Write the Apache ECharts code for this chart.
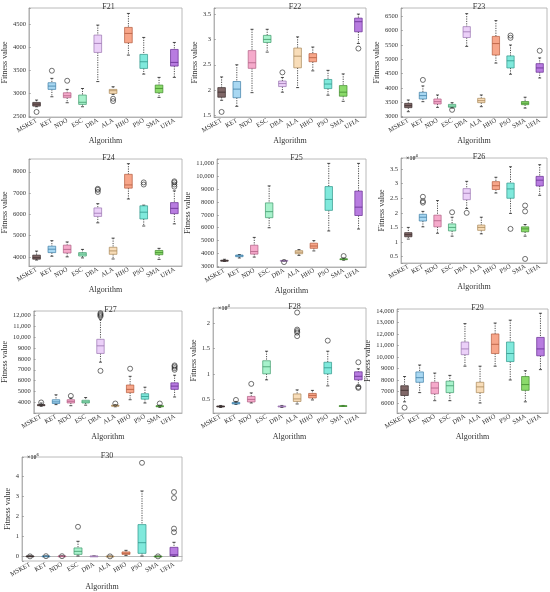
<!DOCTYPE html>
<html>
<head>
<meta charset="utf-8">
<title>F21 - F30 fitness boxplots</title>
<script src="https://cdn.jsdelivr.net/npm/echarts@6/dist/echarts.min.js"></script>
<style>
    html, body { margin: 0; padding: 0; background: #fff; }
    #main { width: 550px; height: 592px; }
</style>
</head>
<body>
<div id="main"></div>
<script>
var algorithms = ['MSKET', 'KET', 'NDO', 'ESC', 'DBA', 'ALA', 'HHO', 'PSO', 'SMA', 'UFIA'];

// each row: [lower whisker, q1, median, q3, upper whisker], one row per algorithm
// outliers: [algorithm index, value]
var f21Box = [
    [2703, 2717, 2760, 2797, 2848],
    [2920, 3080, 3152, 3225, 3320],
    [2790, 2899, 2942, 3007, 3080],
    [2703, 2754, 2800, 2957, 3100],
    [3250, 3884, 4080, 4261, 4478],
    [2971, 2993, 3051, 3080, 3138],
    [3826, 4094, 4297, 4428, 4732],
    [3413, 3536, 3681, 3841, 4210],
    [2906, 3007, 3101, 3174, 3341],
    [3341, 3587, 3667, 3949, 4101]
];
var f21Out = [[0, 2590], [1, 3486], [2, 3268], [5, 2877], [5, 2826]];

var f22Box = [
    [1.80, 1.86, 1.96, 2.05, 2.26],
    [1.68, 1.85, 2.02, 2.17, 2.50],
    [1.95, 2.43, 2.54, 2.78, 3.20],
    [2.75, 2.94, 3.00, 3.08, 3.20],
    [1.96, 2.07, 2.13, 2.18, 2.25],
    [2.05, 2.44, 2.67, 2.83, 3.05],
    [2.38, 2.56, 2.64, 2.72, 2.85],
    [1.90, 2.03, 2.12, 2.21, 2.39],
    [1.78, 1.88, 1.96, 2.09, 2.32],
    [2.92, 3.15, 3.35, 3.42, 3.50]
];
var f22Out = [[0, 1.57], [4, 2.35], [9, 2.82]];

var f23Box = [
    [3175, 3315, 3385, 3466, 3583],
    [3524, 3618, 3735, 3851, 4073],
    [3326, 3443, 3525, 3618, 3758],
    [3300, 3330, 3370, 3430, 3490],
    [5450, 5760, 5960, 6140, 6593],
    [3350, 3490, 3560, 3641, 3758],
    [4870, 5150, 5550, 5800, 6350],
    [4480, 4700, 4950, 5120, 5500],
    [3300, 3420, 3470, 3530, 3680],
    [4350, 4550, 4700, 4850, 5050]
];
var f23Out = [[1, 4283], [3, 3240], [7, 5750], [7, 5830], [9, 5300]];

var f24Box = [
    [3850, 3890, 3960, 4080, 4270],
    [4030, 4200, 4360, 4500, 4760],
    [4000, 4180, 4350, 4550, 4700],
    [3950, 4040, 4130, 4200, 4350],
    [5600, 5900, 6050, 6300, 6500],
    [3900, 4120, 4280, 4450, 4880],
    [6720, 7230, 7380, 7880, 8380],
    [5450, 5780, 6100, 6400, 6430],
    [3880, 4100, 4200, 4300, 4400],
    [5550, 6030, 6280, 6550, 7100]
];
var f24Out = [[4, 7050], [4, 7150], [4, 7200], [7, 7400], [7, 7500],
    [9, 7300], [9, 7400], [9, 7500], [9, 7550]];

var f25Box = [
    [3380, 3400, 3440, 3480, 3550],
    [3650, 3750, 3820, 3880, 3920],
    [3720, 3950, 4150, 4640, 5250],
    [6000, 6780, 7250, 7930, 9250],
    [3380, 3400, 3440, 3460, 3480],
    [3850, 3980, 4100, 4220, 4300],
    [4200, 4400, 4580, 4800, 5000],
    [5750, 7350, 8200, 9200, 11000],
    [3480, 3520, 3550, 3590, 3650],
    [5900, 6950, 7600, 8850, 11000]
];
var f25Out = [[4, 3330], [8, 3800]];

var f26Box = [
    [1.10, 1.18, 1.25, 1.32, 1.50],
    [1.52, 1.72, 1.85, 1.95, 2.05],
    [1.30, 1.52, 1.73, 1.92, 2.42],
    [1.20, 1.38, 1.50, 1.62, 1.85],
    [2.15, 2.45, 2.67, 2.83, 3.08],
    [1.28, 1.40, 1.50, 1.58, 1.85],
    [2.68, 2.80, 2.93, 3.07, 3.22],
    [1.98, 2.50, 2.82, 3.02, 3.58],
    [1.20, 1.35, 1.45, 1.52, 1.60],
    [2.60, 2.92, 3.12, 3.25, 3.65]
];
var f26Out = [[1, 2.35], [1, 2.40], [1, 2.55], [3, 2.02], [4, 2.00], [7, 1.45],
    [8, 0.42], [8, 2.05], [8, 2.25]];

var f27Box = [
    [3650, 3700, 3750, 3800, 3950],
    [3800, 3900, 4050, 4250, 4700],
    [3700, 3950, 4100, 4250, 4400],
    [3750, 3950, 4050, 4200, 4450],
    [7700, 8500, 9200, 9800, 11600],
    [3600, 3650, 3700, 3750, 3800],
    [4250, 4900, 5200, 5600, 6400],
    [3950, 4300, 4550, 4800, 5400],
    [3550, 3600, 3650, 3700, 3750],
    [4500, 5200, 5500, 5800, 6500]
];
var f27Out = [[0, 4000], [2, 4600], [4, 6900], [4, 11900], [4, 12000], [4, 12100], [4, 12200],
    [5, 3900], [6, 7100], [8, 3900], [9, 7000], [9, 7150], [9, 7300], [9, 7400]];

var f28Box = [
    [0.33, 0.34, 0.35, 0.36, 0.37],
    [0.39, 0.40, 0.415, 0.43, 0.45],
    [0.42, 0.44, 0.49, 0.55, 0.62],
    [0.88, 1.00, 1.14, 1.26, 1.45],
    [0.33, 0.34, 0.35, 0.36, 0.37],
    [0.40, 0.45, 0.50, 0.60, 0.68],
    [0.48, 0.52, 0.57, 0.61, 0.67],
    [0.76, 1.00, 1.12, 1.23, 1.45],
    [0.35, 0.355, 0.36, 0.365, 0.37],
    [0.75, 0.88, 0.95, 1.04, 1.10]
];
var f28Out = [[1, 0.48], [2, 0.80], [5, 1.75], [5, 1.82], [5, 1.85], [5, 1.88], [5, 2.22],
    [7, 1.66], [9, 0.72], [9, 0.74], [9, 1.23]];

var f29Box = [
    [6100, 6650, 7100, 7500, 8300],
    [6900, 7800, 8200, 8700, 9300],
    [6200, 6800, 7300, 7800, 8600],
    [6200, 6900, 7500, 7900, 8400],
    [9200, 10200, 10700, 11300, 12900],
    [6000, 6900, 7400, 7800, 9200],
    [9200, 10300, 11100, 12000, 12950],
    [8000, 9600, 10300, 11300, 13200],
    [6100, 7100, 7600, 8300, 8800],
    [8900, 10100, 10700, 11700, 13800]
];
var f29Out = [[0, 5600]];

var f30Box = [
    [0, 0.005, 0.01, 0.015, 0.02],
    [0, 0.005, 0.01, 0.015, 0.02],
    [0, 0.005, 0.01, 0.02, 0.03],
    [0.02, 0.10, 0.25, 0.42, 0.75],
    [0, 0.005, 0.01, 0.015, 0.02],
    [0, 0.002, 0.005, 0.008, 0.01],
    [0.05, 0.10, 0.15, 0.22, 0.30],
    [0.02, 0.15, 0.68, 1.58, 3.25],
    [0, 0.002, 0.005, 0.008, 0.01],
    [0, 0.02, 0.08, 0.45, 0.70]
];
var f30Out = [[0, 0], [1, 0.01], [2, 0.01], [3, 1.47], [5, 0], [7, 4.65], [8, 0],
    [9, 1.20], [9, 1.38], [9, 2.90], [9, 3.20]];

// styling
var boxColors = ['#806868', '#a9d8f2', '#f5aacb', '#a8f2cc', '#ebd0f8', '#f8ddb9', '#f7a68a', '#80e9dc', '#8bda6b', '#b87ce0'];
var lineColors = ['#3a2c2c', '#3d7ea6', '#b05f84', '#3f9a6b', '#9a74b0', '#a88658', '#b45a3c', '#2f978a', '#3f8a2c', '#652d90'];
var serif = "'Liberation Serif', 'DejaVu Serif', serif";

// rect: [left, top, right, bottom] of the plot area in px
var panels = [
    {name: 'F21', box: f21Box, out: f21Out, rect: [25, 8, 182, 117], min: 2480, max: 4850, step: 500, yGap: 15, xGap: 19},
    {name: 'F22', box: f22Box, out: f22Out, rect: [214, 8, 366, 117], min: 1.47, max: 3.62, step: 0.5, yGap: 15, xGap: 19},
    {name: 'F23', box: f23Box, out: f23Out, rect: [401, 8, 547, 117], min: 2990, max: 6790, step: 500, yGap: 16, xGap: 19},
    {name: 'F24', box: f24Box, out: f24Out, rect: [25, 159, 182, 266], min: 3570, max: 8600, step: 1000, yGap: 16, xGap: 19},
    {name: 'F25', box: f25Box, out: f25Out, rect: [217, 159, 366, 267], min: 2950, max: 11340, step: 1000, yGap: 20, xGap: 19},
    {name: 'F26', box: f26Box, out: f26Out, rect: [401, 158, 547, 263], min: 0.28, max: 3.88, step: 0.5, yGap: 13, xGap: 19, exp: '4'},
    {name: 'F27', box: f27Box, out: f27Out, rect: [29, 311, 182, 413], min: 3030, max: 12400, step: 1000, yGap: 18, xGap: 19},
    {name: 'F28', box: f28Box, out: f28Out, rect: [213, 308, 366, 413], min: 0.22, max: 2.31, step: 0.5, yGap: 10, xGap: 19, exp: '4'},
    {name: 'F29', box: f29Box, out: f29Out, rect: [397, 309, 548, 413], min: 5130, max: 14170, step: 1000, yGap: 12, xGap: 19},
    {name: 'F30', box: f30Box, out: f30Out, rect: [22, 457, 182, 561], min: -0.23, max: 4.94, step: 1, yGap: 7, xGap: 22, exp: '6'}
];

function tickFormatter(step) {
    return function (v) {
        var k = v / step;
        if (Math.abs(k - Math.round(k)) > 1e-6) {
            return '';
        }
        var n = +(Math.round(k) * step).toFixed(6);
        if (n >= 10000) {
            return String(n).replace(/\B(?=(\d{3})+(?!\d))/g, ',');
        }
        return String(n);
    };
}

function renderBox(params, api) {
    var x = api.value(0);
    var lo = api.coord([x, api.value(1)]);
    var q1 = api.coord([x, api.value(2)]);
    var md = api.coord([x, api.value(3)]);
    var q3 = api.coord([x, api.value(4)]);
    var hi = api.coord([x, api.value(5)]);
    var band = api.size([1, 0])[0];
    var w = band * 0.5;
    var cap = w * 0.4;
    var dotted = {stroke: '#222', lineWidth: 0.8, lineDash: [1.2, 1.2]};
    var solid = {stroke: '#222', lineWidth: 0.8};
    return {
        type: 'group',
        children: [
            {type: 'line', shape: {x1: hi[0], y1: hi[1], x2: q3[0], y2: q3[1]}, style: dotted},
            {type: 'line', shape: {x1: q1[0], y1: q1[1], x2: lo[0], y2: lo[1]}, style: dotted},
            {type: 'line', shape: {x1: hi[0] - cap / 2, y1: hi[1], x2: hi[0] + cap / 2, y2: hi[1]}, style: solid},
            {type: 'line', shape: {x1: lo[0] - cap / 2, y1: lo[1], x2: lo[0] + cap / 2, y2: lo[1]}, style: solid},
            {
                type: 'rect',
                shape: {x: q3[0] - w / 2, y: q3[1], width: w, height: Math.max(q1[1] - q3[1], 0.8)},
                style: {fill: boxColors[x], stroke: lineColors[x], lineWidth: 0.7}
            },
            {type: 'line', shape: {x1: md[0] - w / 2, y1: md[1], x2: md[0] + w / 2, y2: md[1]},
                style: {stroke: lineColors[x], lineWidth: 0.8}}
        ]
    };
}

function buildOption() {
    var grid = [], xAxis = [], yAxis = [], series = [], title = [];
    var labelStyle = {fontFamily: serif, fontSize: 6.5, color: '#333'};
    var nameStyle = {fontFamily: serif, fontSize: 8, color: '#333'};

    panels.forEach(function (p, i) {
        var r = p.rect;
        grid.push({
            left: r[0], top: r[1], width: r[2] - r[0], height: r[3] - r[1],
            show: true, borderColor: '#a8a8a8', borderWidth: 0.8
        });
        xAxis.push({
            gridIndex: i,
            type: 'category',
            data: algorithms,
            boundaryGap: true,
            name: 'Algorithm',
            nameLocation: 'middle',
            nameGap: p.xGap,
            nameTextStyle: nameStyle,
            axisLine: {lineStyle: {color: '#a8a8a8', width: 0.8}},
            axisTick: {inside: true, length: 2, alignWithLabel: true, lineStyle: {color: '#888', width: 0.6}},
            axisLabel: {interval: 0, rotate: 30, margin: 3, fontFamily: serif, fontSize: 6.5, color: '#333'},
            splitLine: {show: false}
        });
        yAxis.push({
            gridIndex: i,
            type: 'value',
            min: p.min,
            max: p.max,
            minInterval: p.step,
            maxInterval: p.step,
            splitNumber: Math.round((p.max - p.min) / p.step),
            name: 'Fitness value',
            nameLocation: 'middle',
            nameGap: p.yGap,
            nameTextStyle: nameStyle,
            axisLine: {show: true, lineStyle: {color: '#a8a8a8', width: 0.8}},
            axisTick: {show: true, inside: true, length: 2, lineStyle: {color: '#888', width: 0.6}},
            axisLabel: {margin: 3, fontFamily: serif, fontSize: 6.5, color: '#333', formatter: tickFormatter(p.step)},
            splitLine: {show: false}
        });
        series.push({
            type: 'custom',
            xAxisIndex: i,
            yAxisIndex: i,
            renderItem: renderBox,
            encode: {x: 0, y: [1, 2, 3, 4, 5]},
            data: p.box.map(function (row, k) { return [k].concat(row); }),
            silent: true
        });
        series.push({
            type: 'scatter',
            xAxisIndex: i,
            yAxisIndex: i,
            data: p.out,
            symbol: 'circle',
            symbolSize: 5,
            itemStyle: {color: 'rgba(0,0,0,0)', borderColor: '#222', borderWidth: 0.8},
            silent: true
        });
        title.push({
            text: p.name,
            left: (r[0] + r[2]) / 2,
            top: r[1] - 10,
            textAlign: 'center',
            textStyle: {fontFamily: serif, fontSize: 8, fontWeight: 'normal', color: '#333'}
        });
        if (p.exp) {
            title.push({
                text: '{a|×10}{b|' + p.exp + '}',
                left: r[0],
                top: r[1] - 9,
                textStyle: {
                    rich: {
                        a: {fontFamily: serif, fontSize: 6, color: '#444', lineHeight: 8},
                        b: {fontFamily: serif, fontSize: 4.5, color: '#444', lineHeight: 8, padding: [0, 0, 4, 0]}
                    }
                }
            });
        }
    });

    return {
        animation: false,
        backgroundColor: '#fff',
        title: title,
        grid: grid,
        xAxis: xAxis,
        yAxis: yAxis,
        series: series
    };
}

var chart = echarts.init(document.getElementById('main'), null, {renderer: 'canvas'});
chart.setOption(buildOption());
</script>
</body>
</html>
